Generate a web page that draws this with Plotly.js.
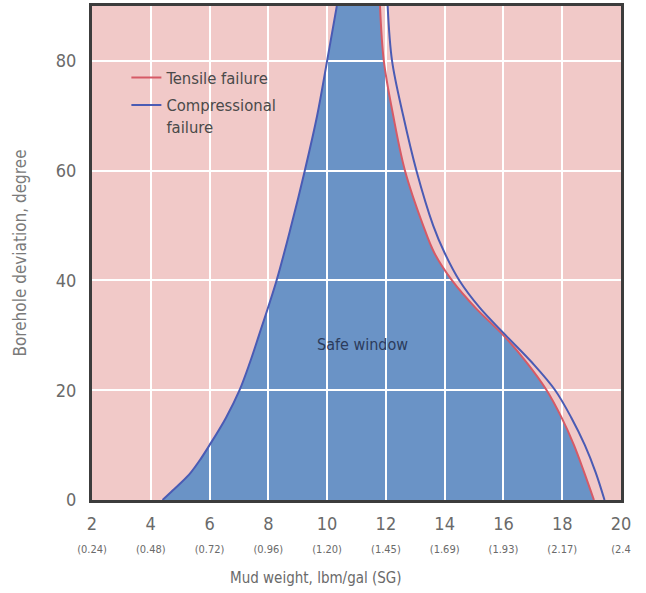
<!DOCTYPE html>
<html>
<head>
<meta charset="utf-8">
<script src="https://cdn.plot.ly/plotly-3.0.1.min.js"></script>
<style>html,body{margin:0;padding:0;background:#fff;}#chart{width:646px;height:593px;}</style>
</head>
<body>
<div id="chart"></div>
<script>
// Compressional failure, low mud-weight branch (deviation, mud weight)
const compLeftY = [0, 1.5, 3, 5, 7.5, 10, 15, 20, 25, 30, 40, 50, 60, 70, 80, 90];
const compLeftX = [4.4, 4.7, 5.0, 5.36, 5.7, 6.0, 6.56, 7.02, 7.37, 7.68, 8.28, 8.78, 9.24, 9.66, 10.0, 10.33];
// Compressional failure, high mud-weight branch
const compRightY = [90, 80, 70, 60, 50, 45, 40, 35, 30, 25, 20, 15, 10, 5, 0];
const compRightX = [12.06, 12.21, 12.59, 13.04, 13.61, 14.0, 14.5, 15.2, 16.08, 16.98, 17.76, 18.31, 18.77, 19.14, 19.44];
// Tensile failure
const tensileY = [90, 80, 70, 60, 50, 45, 40, 35, 30, 25, 20, 15, 10, 5, 0];
const tensileX = [11.8, 11.93, 12.25, 12.65, 13.27, 13.65, 14.25, 15.05, 16.0, 16.8, 17.47, 17.98, 18.4, 18.75, 19.08];

const xTickVals = [2, 4, 6, 8, 10, 12, 14, 16, 18, 20];
const sgLabels = ['(0.24)', '(0.48)', '(0.72)', '(0.96)', '(1.20)', '(1.45)', '(1.69)', '(1.93)', '(2.17)', '(2.4'];
const yTickVals = [0, 20, 40, 60, 80];
const xRange = [2, 20];
const yRange = [0, 90];

const FONT = '"Liberation Sans Narrow", "DejaVu Sans Condensed", "Roboto Condensed", sans-serif';
const M = {l: 92, r: 25, t: 6, b: 93};
const W = 646, H = 593;

// Same Catmull-Rom spline Plotly uses for line.shape='spline', so the
// safe-window fill (a below-grid shape) follows the drawn curves exactly.
const kx = (W - M.l - M.r) / (xRange[1] - xRange[0]);
const ky = (H - M.t - M.b) / (yRange[1] - yRange[0]);
const toPx = (x, y) => [x * kx, -y * ky];
const toData = p => [p[0] / kx, -p[1] / ky];
function tangent(a, b, c, s) {
  const d1x = a[0] - b[0], d1y = a[1] - b[1], d2x = c[0] - b[0], d2y = c[1] - b[1];
  const d1a = Math.pow(d1x * d1x + d1y * d1y, 0.25), d2a = Math.pow(d2x * d2x + d2y * d2y, 0.25);
  const nx = (d2a * d2a * d1x - d1a * d1a * d2x) * s, ny = (d2a * d2a * d1y - d1a * d1a * d2y) * s;
  const den1 = 3 * d2a * (d1a + d2a), den2 = 3 * d1a * (d1a + d2a);
  return [[b[0] + (den1 && nx / den1), b[1] + (den1 && ny / den1)],
          [b[0] - (den2 && nx / den2), b[1] - (den2 && ny / den2)]];
}
function fmt(p) { const d = toData(p); return d[0] + ',' + d[1]; }
function splineSegs(xs, ys, startCmd) {
  const pts = xs.map((x, i) => toPx(x, ys[i]));
  const t = [];
  for (let i = 1; i < pts.length - 1; i++) t.push(tangent(pts[i - 1], pts[i], pts[i + 1], 1));
  let s = startCmd + fmt(pts[0]) + ' Q' + fmt(t[0][0]) + ' ' + fmt(pts[1]);
  for (let i = 2; i < pts.length - 1; i++) s += ' C' + fmt(t[i - 2][1]) + ' ' + fmt(t[i - 1][0]) + ' ' + fmt(pts[i]);
  s += ' Q' + fmt(t[pts.length - 3][1]) + ' ' + fmt(pts[pts.length - 1]);
  return s;
}
const fillPath = splineSegs(compLeftX, compLeftY, 'M') + ' ' + splineSegs(tensileX, tensileY, 'L') + ' Z';

const compX = compLeftX.concat([null], compRightX);
const compY = compLeftY.concat([null], compRightY);

const traces = [
  {x: tensileX, y: tensileY, type: 'scatter', mode: 'lines', name: 'Tensile failure', legendgroup: 'a',
   line: {color: '#d65a66', width: 2, shape: 'spline'}},
  {x: compX, y: compY, type: 'scatter', mode: 'lines', name: 'Compressional<br>failure', legendgroup: 'b',
   line: {color: '#4a5bb4', width: 2, shape: 'spline'}, connectgaps: false}
];

const xTickText = xTickVals.map((v, i) => v + '<br><span style="font-size:11px">' + sgLabels[i] + '</span>');

const layout = {
  width: W, height: H,
  margin: M,
  paper_bgcolor: '#ffffff',
  plot_bgcolor: '#f1c9c8',
  font: {family: FONT, color: '#6a6a6a'},
  showlegend: true,
  legend: {x: 0.065, y: 0.89, xanchor: 'left', yanchor: 'top', bgcolor: 'rgba(0,0,0,0)', valign: 'top',
           font: {family: FONT, size: 16.5, color: '#4a4a4a'}, tracegroupgap: 3},
  xaxis: {range: xRange, tickmode: 'array', tickvals: xTickVals, ticktext: xTickText,
          showgrid: true, gridcolor: '#ffffff', gridwidth: 2, zeroline: false,
          showline: true, linecolor: '#3c3c3c', linewidth: 3, mirror: true, ticks: '',
          ticklabelstandoff: 5,
          tickfont: {family: FONT, size: 18, color: '#6a6a6a'}},
  yaxis: {range: yRange, tickmode: 'array', tickvals: yTickVals,
          showgrid: true, gridcolor: '#ffffff', gridwidth: 2, zeroline: false,
          showline: true, linecolor: '#3c3c3c', linewidth: 3, mirror: true, ticks: '',
          ticklabelstandoff: 9,
          tickfont: {family: FONT, size: 18, color: '#6a6a6a'},
          title: {text: 'Borehole deviation, degree', font: {family: FONT, size: 17, color: '#7a7a7a'}, standoff: 25}},
  shapes: [{type: 'path', xref: 'x', yref: 'y', path: fillPath, fillcolor: '#6a93c6', line: {width: 0}, layer: 'below'}],
  annotations: [
    {x: 11.2, y: 28.4, xref: 'x', yref: 'y', text: 'Safe window', showarrow: false,
     font: {family: FONT, size: 16, color: '#2c3c5c'}},
    {x: 0.4235, y: -0.158, xref: 'paper', yref: 'paper', yanchor: 'middle', text: 'Mud weight, lbm/gal (SG)',
     showarrow: false, font: {family: FONT, size: 15, color: '#6a6a6a'}}
  ]
};

Plotly.newPlot('chart', traces, layout, {displayModeBar: false, staticPlot: true});
</script>
</body>
</html>
